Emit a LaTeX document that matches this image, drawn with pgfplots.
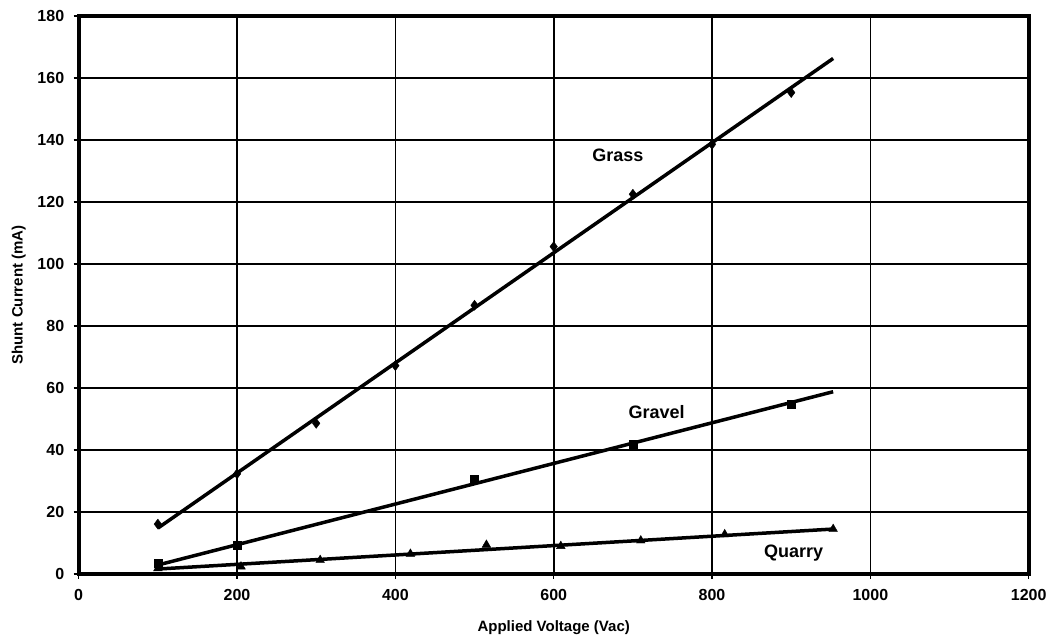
\documentclass[border=0pt]{standalone}
\usepackage{fontspec}
\setmainfont{Liberation Sans}
\usepackage{pgfplots}
\pgfplotsset{compat=1.18}
\usetikzlibrary{calc}
\begin{document}
\begin{tikzpicture}
\begin{axis}[
  scale only axis,
  width=950pt, height=558pt,
  xmin=0, xmax=1200, ymin=0, ymax=180,
  xtick={0,200,...,1200}, ytick={0,20,...,180},
  xtick pos=left, ytick pos=left,
  tick align=outside, major tick length=5pt,
  tick style={black, line width=1.5pt},
  grid=major,
  major grid style={black, line width=1.6pt},
  axis line style={black, line width=4pt},
  /pgf/number format/assume math mode=true,
  /pgf/number format/1000 sep={},
  ticklabel style={font=\fontsize{16}{19}\selectfont\bfseries},
  xticklabel style={yshift=-7pt},
  yticklabel style={xshift=-6pt},
  xlabel={Applied Voltage (Vac)},
  ylabel={Shunt Current (mA)},
  label style={font=\fontsize{15}{18}\selectfont\bfseries},
  xlabel style={at={(axis description cs:0.5,-0.0968)}, anchor=center},
  ylabel style={at={(axis description cs:-0.063,0.5)}, anchor=center},
  clip=false,
]
% trend lines
\addplot[black, line width=3.5pt, no marks] coordinates {(100,14.8) (953,166.3)};
\addplot[black, line width=3.5pt, no marks] coordinates {(100,2.9) (953,58.8)};
\addplot[black, line width=3.5pt, no marks] coordinates {(100,1.6) (953,14.5)};
% data
\addplot[only marks, mark=diamond*, mark size=5pt, black] coordinates {
 (100,16.1) (200,32.3) (300,48.6) (400,67.2) (500,86.7) (600,105.6) (700,122.5) (800,138.6) (900,155.3)};
\addplot[only marks, mark=square*, mark size=4pt, black] coordinates {
 (100,3.4) (200,9.4) (500,30.5) (700,41.8) (900,54.8)};
\addplot[only marks, mark=triangle*, mark size=5pt, black] coordinates {
 (100,1.8) (205,2.4) (305,4.5) (419,6.5) (515,9.4) (609,9.0) (710,10.8) (816,12.8) (953,14.5)};
\node[font=\fontsize{18}{20}\selectfont\bfseries] at (axis cs:681,135) {Grass};
\node[font=\fontsize{18}{20}\selectfont\bfseries] at (axis cs:730,52.3) {Gravel};
\node[font=\fontsize{18}{20}\selectfont\bfseries] at (axis cs:903,6.9) {Quarry};
\end{axis}
\pgfresetboundingbox
\path[use as bounding box] ($(current axis.south west)+(-78.7pt,-62pt)$) rectangle ($(current axis.north east)+(18.3pt,16pt)$);
\end{tikzpicture}
\end{document}
